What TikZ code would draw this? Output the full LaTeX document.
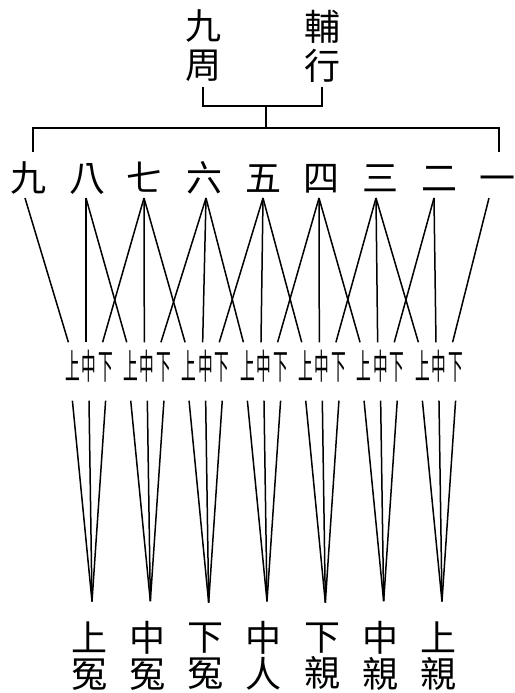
\documentclass[tikz,border=0pt]{standalone}
\usepackage{fontspec}
\newfontfamily\cjk{Noto Sans CJK TC}
\newfontfamily\cjknarrow[FakeStretch=0.42]{Noto Sans CJK TC}
\usetikzlibrary{positioning}

\begin{document}
\begin{tikzpicture}[x=1pt,y=-1pt,
        big/.style={inner sep=0pt,align=center,
                    font=\cjk\fontsize{36}{39}\selectfont},
        word/.style={inner sep=0pt,text height=31.7pt,text depth=4.3pt,
                     font=\cjk\fontsize{36}{39}\selectfont},
        tiny/.style={inner sep=0pt,text height=30.8pt,text depth=4.2pt,
                     font=\cjknarrow\fontsize{35}{35}\selectfont},
        ln/.style={line width=1.5pt,black}]
    \useasboundingbox (0,0) rectangle (514,693);

    % the two heads
    \node[big] (jiuzhou) at (203,46) {九\\周};
    \node[big] (fuxing) at (322,46) {輔\\行};
    \coordinate (join) at (266,106);
    \coordinate (split) at (266,128);
    \coordinate (dropl) at (33,152);
    \coordinate (dropr) at (499,152);
    \draw[ln] ([yshift=-5pt]jiuzhou.south) |- (join) -| ([yshift=-5pt]fuxing.south);
    \draw[ln] (join) -- (split);
    \draw[ln] (dropl) |- (split) -| (dropr);

    % nine numbers
    \foreach \x/\t [count=\i] in {28/九,87/八,144/七,204/六,263/五,
                                  321/四,380/三,439/二,497/一}
      \node[word] (n\i) at (\x,178) {\t};
    \foreach \x [count=\i] in {25,86,144,206,263,319,376,434,489}
      \coordinate (u\i) at (\x,198);

    % seven groups of upper, middle, lower
    \foreach \g/\s/\t in {1/上/冤,2/中/冤,3/下/冤,4/中/人,5/下/親,6/中/親,7/上/親} {
      \pgfmathsetmacro{\c}{89+58.33*(\g-1)}
      \node[tiny] (m\g) at (\c,366) {中};
      \node[tiny,base left=1.5pt of m\g] (a\g) {上};
      \node[tiny,base right=1.5pt of m\g] (d\g) {下};
      \node[big,font=\cjk\fontsize{36}{36}\selectfont] (b\g) at (\c,656) {\s\\\t};
      \coordinate (v\g) at ([xshift=3pt,yshift=20pt]b\g.north);
    }

    % numbers down to the groups
    \foreach \g [evaluate=\g as \h using int(\g+1),
                 evaluate=\g as \k using int(\g+2)] in {1,...,7} {
      \draw[ln] (u\g) -- ([xshift=-4pt,yshift=6pt]a\g.north);
      \draw[ln] (u\h) -- ([xshift=-3pt,yshift=6pt]m\g.north);
      \draw[ln] (u\k) -- ([xshift=-3pt,yshift=6pt]d\g.north);
    }

    % groups down to the seven
    \foreach \g in {1,...,7} {
      \draw[ln] ([yshift=-17pt]a\g.south) -- (v\g);
      \draw[ln] ([yshift=-17pt]m\g.south) -- (v\g);
      \draw[ln] ([yshift=-17pt]d\g.south) -- (v\g);
    }
\end{tikzpicture}
\end{document}
